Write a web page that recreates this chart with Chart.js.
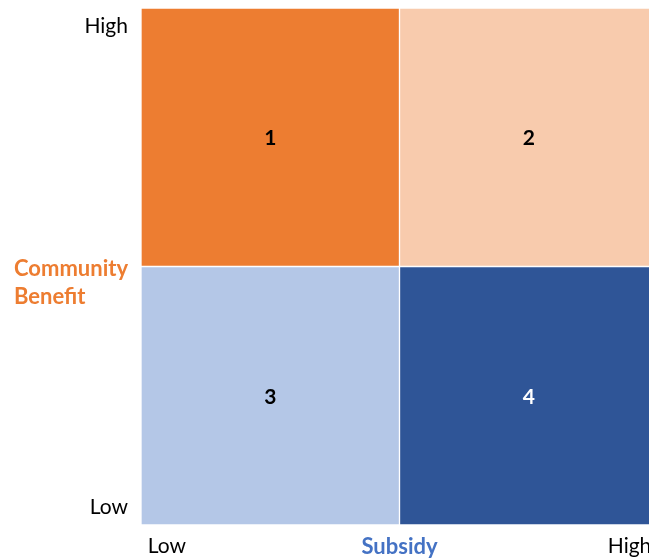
<!DOCTYPE html>
<html>
<head>
<meta charset="utf-8">
<script src="https://cdn.jsdelivr.net/npm/chart.js@4"></script>
<style>
  html, body { margin: 0; padding: 0; background: #fff; overflow: hidden; }
  #wrap { position: absolute; left: 0; top: 0; width: 658px; height: 559px; }
</style>
</head>
<body>
<div id="wrap"><canvas id="c" width="658" height="559"></canvas></div>
<script>
// ---- data ----
const subsidyPositions = [0.5, 1.5];            // Low subsidy, High subsidy (column centres)
const highBenefitRange = [[1, 2], [1, 2]];      // top row spans
const lowBenefitRange  = [[0, 1], [0, 1]];      // bottom row spans
const highBenefitNumbers = ['1', '2'];
const lowBenefitNumbers  = ['3', '4'];
const xTickValues = [0.1, 1.89];
const xTickLabels = ['Low', 'High'];
const yTickValues = [0.07, 1.93];
const yTickLabels = ['Low', 'High'];
const xTitle = 'Subsidy';
const yTitle = ['Community', 'Benefit'];

// ---- styles ----
const highColors = ['#ED7D31', '#F8CBAD'];
const lowColors  = ['#B4C7E7', '#2F5597'];
const highNumColors = ['#000000', '#000000'];
const lowNumColors  = ['#000000', '#FFFFFF'];
const FONT = 'Lato, "Open Sans", sans-serif';

const quadrantText = {
  id: 'quadrantText',
  afterDatasetsDraw(chart) {
    const ctx = chart.ctx;
    ctx.save();
    ctx.font = 'bold 21px ' + FONT;
    ctx.textAlign = 'center';
    ctx.textBaseline = 'middle';
    const sets = [[highBenefitNumbers, highNumColors], [lowBenefitNumbers, lowNumColors]];
    sets.forEach((s, di) => {
      const meta = chart.getDatasetMeta(di);
      meta.data.forEach((bar, i) => {
        const p = bar.getCenterPoint();
        ctx.fillStyle = s[1][i];
        ctx.fillText(s[0][i], p.x, p.y + 1);
      });
    });
    ctx.restore();
  },
  afterDraw(chart) {
    const ctx = chart.ctx;
    const xs = chart.scales.x, ys = chart.scales.y;
    ctx.save();
    ctx.font = 'bold 22px ' + FONT;
    ctx.textBaseline = 'middle';
    ctx.fillStyle = '#4472C4';
    ctx.textAlign = 'center';
    ctx.fillText(xTitle, xs.getPixelForValue(1), chart.chartArea.bottom + 22);
    ctx.fillStyle = '#ED7D31';
    ctx.textAlign = 'left';
    const yc = ys.getPixelForValue(1);
    ctx.fillText(yTitle[0], 14, yc + 2);
    ctx.fillText(yTitle[1], 14, yc + 30);
    ctx.restore();
  }
};

new Chart(document.getElementById('c'), {
  type: 'bar',
  data: {
    datasets: [
      {
        data: subsidyPositions.map((x, i) => ({ x: x, y: highBenefitRange[i] })),
        backgroundColor: highColors,
        borderColor: '#FFFFFF',
        borderWidth: 1,
        borderSkipped: false,
        barPercentage: 1,
        categoryPercentage: 1,
        grouped: false
      },
      {
        data: subsidyPositions.map((x, i) => ({ x: x, y: lowBenefitRange[i] })),
        backgroundColor: lowColors,
        borderColor: '#FFFFFF',
        borderWidth: 1,
        borderSkipped: false,
        barPercentage: 1,
        categoryPercentage: 1,
        grouped: false
      }
    ]
  },
  options: {
    responsive: false,
    animation: false,
    layout: { padding: { top: 8, right: 0, left: 0, bottom: 0 } },
    plugins: { legend: { display: false }, tooltip: { enabled: false } },
    scales: {
      x: {
        type: 'linear', min: 0, max: 2, offset: false,
        grid: { display: false, drawTicks: false }, border: { display: false },
        afterBuildTicks: s => { s.ticks = xTickValues.map(v => ({ value: v })); },
        afterFit: s => { s.height = 34; s.paddingLeft = 0; s.paddingRight = 0; },
        ticks: {
          padding: 9, autoSkip: false, maxRotation: 0,
          color: '#000', font: { family: FONT, size: 21 },
          callback: (v) => xTickLabels[xTickValues.indexOf(v)]
        }
      },
      y: {
        type: 'linear', min: 0, max: 2,
        grid: { display: false, drawTicks: false }, border: { display: false },
        afterBuildTicks: s => { s.ticks = yTickValues.map(v => ({ value: v })); },
        afterFit: s => { s.width = 141; s.paddingTop = 0; s.paddingBottom = 0; },
        ticks: {
          padding: 13, autoSkip: false,
          color: '#000', font: { family: FONT, size: 21 },
          callback: (v) => yTickLabels[yTickValues.indexOf(v)]
        }
      }
    }
  },
  plugins: [quadrantText]
});
</script>
</body>
</html>
